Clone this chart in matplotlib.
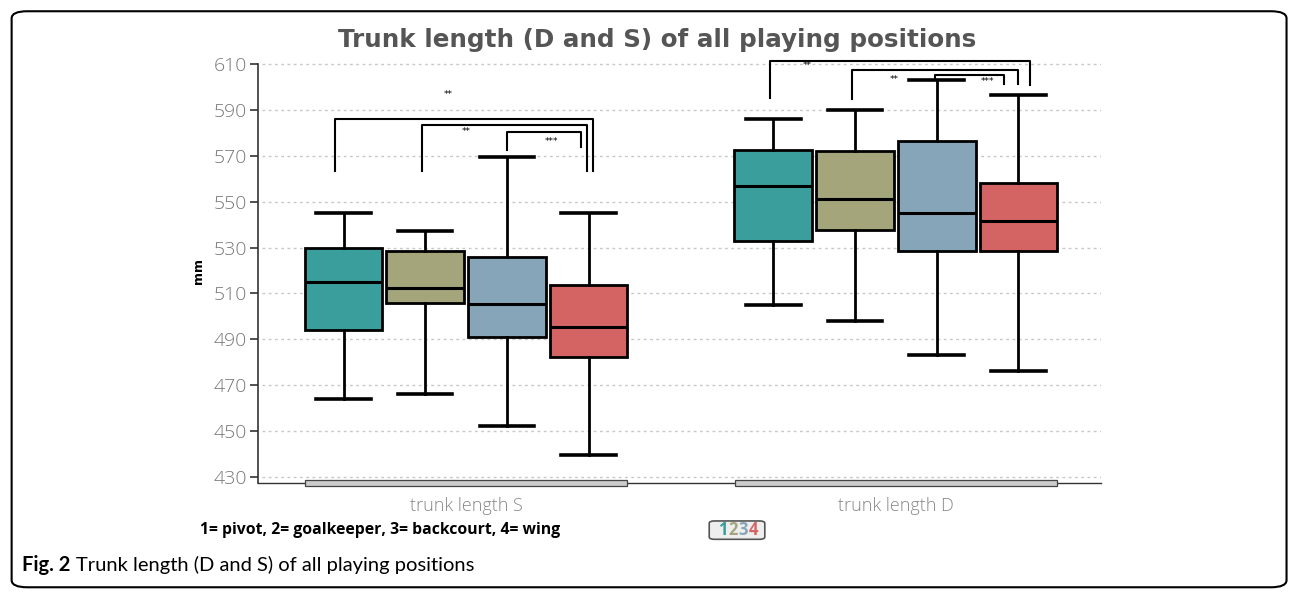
import numpy as np
import matplotlib.pyplot as plt
from matplotlib.patches import Rectangle, FancyBboxPatch
from matplotlib.transforms import blended_transform_factory

plt.rcParams['font.family'] = ['DejaVu Sans']

# playing positions: 1= pivot, 2= goalkeeper, 3= backcourt, 4= wing
groups = ["trunk length S", "trunk length D"]
positions = ["1", "2", "3", "4"]
colors = ["#3a9e9c", "#a5a57b", "#87a5b9", "#d46463"]

# box statistics (mm), one row per group, one column per position
whislo = [[464, 466, 452, 439.5], [505, 498, 483, 476]]
q1 = [[494, 506, 491, 482.5], [533, 537.5, 528.5, 528.5]]
med = [[515, 512.5, 505.5, 495.5], [557, 551, 545, 541.5]]
q3 = [[530, 528.5, 526, 513.5], [572.5, 572, 576.5, 558]]
whishi = [[545, 537, 569.5, 545], [586, 590, 603, 596.5]]

# significance brackets: x left, x right, top, left leg end, right leg end, label, label x, label y
brackets = [
    (-0.305, 0.295, 586.0, 563.5, 563.5, "**", -0.042, 596.5),
    (-0.102, 0.281, 583.4, 563.5, 563.5, "**", 0.000, 580.4),
    (0.095, 0.267, 580.4, 572.5, 574.0, "***", 0.198, 576.2),
    (0.706, 1.312, 611.4, 595.2, 600.8, "**", 0.793, 609.4),
    (0.897, 1.285, 607.2, 594.7, 601.1, "**", 0.995, 603.3),
    (1.090, 1.251, 605.3, 603.0, 601.2, "***", 1.212, 602.5),
]

yticks = np.arange(430, 611, 20)

thin = dict(family="Open Sans", fontweight="light")
narrow_bold = dict(family="Open Sans", stretch="condensed", fontweight="bold")

fig = plt.figure(figsize=(12.93, 5.92), dpi=100)
ax = fig.add_axes([0.1995, 0.1841, 0.652, 0.7155])

step = 0.19
width = 0.181
for g in range(len(groups)):
    for i in range(len(positions)):
        stats = [dict(whislo=whislo[g][i], q1=q1[g][i], med=med[g][i],
                      q3=q3[g][i], whishi=whishi[g][i], fliers=[])]
        x = g + (i - 1.5) * step
        ax.bxp(stats, positions=[x], widths=width, patch_artist=True,
               manage_ticks=False, capwidths=0.127,
               boxprops=dict(facecolor=colors[i], edgecolor="black", linewidth=2),
               medianprops=dict(color="black", linewidth=2.2),
               whiskerprops=dict(color="black", linewidth=2),
               capprops=dict(color="black", linewidth=2.6))

for x1, x2, top, yl, yr, label, lx, ly in brackets:
    ax.plot([x1, x1, x2, x2], [yl, top, top, yr], color="black",
            linewidth=1.5, clip_on=False)
    ax.text(lx, ly, label, fontsize=6.5, ha="center", va="center", clip_on=False)

ax.set_xlim(-0.484, 1.477)
ax.set_ylim(427.35, 612)
ax.set_yticks(yticks)
ax.set_yticklabels([str(v) for v in yticks], color="#777777", fontsize=14, **thin)
ax.tick_params(axis="y", length=6, width=1.2, color="#333333", pad=2)
ax.set_xticks([0, 1])
ax.set_xticklabels(groups, color="#888888", fontsize=13, **thin)
ax.tick_params(axis="x", length=0, pad=10)

for v in yticks:
    ax.axhline(v, xmin=0.005, xmax=1, color="#c8c8c8", linewidth=1,
               linestyle=(0, (2, 2.5)), zorder=0)

for side in ["top", "right"]:
    ax.spines[side].set_visible(False)
ax.spines["left"].set_bounds(427.35, 610)
ax.spines["left"].set_color("#333333")
ax.spines["left"].set_linewidth(1.2)
ax.spines["bottom"].set_color("#333333")
ax.spines["bottom"].set_linewidth(1)

# group range bars on the x axis
trans = blended_transform_factory(ax.transData, ax.transAxes)
for g in range(len(groups)):
    ax.add_patch(Rectangle((g - 0.374, -0.006), 0.748, 0.012, transform=trans,
                           facecolor="#cccccc", edgecolor="#444444",
                           linewidth=0.9, clip_on=False, zorder=3))

ax.set_ylabel("mm", fontsize=9, fontweight="bold", labelpad=6)

fig.text(0.508, 0.932, "Trunk length (D and S) of all playing positions",
         ha="center", va="center", fontsize=17.7, fontweight="bold", color="#555555")

fig.text(0.155, 0.105, "1= pivot, 2= goalkeeper, 3= backcourt, 4= wing",
         ha="left", va="center", fontsize=11.3, **narrow_bold)

# colour key 1234
key_box = FancyBboxPatch((0.5505, 0.091), 0.039, 0.027,
                         boxstyle="round,pad=0.002,rounding_size=0.004",
                         transform=fig.transFigure, facecolor="#eeeeee",
                         edgecolor="#555555", linewidth=1.2)
fig.patches.append(key_box)
for i, p in enumerate(positions):
    fig.text(0.5557 + i * 0.0077, 0.1045, p, ha="left", va="center",
             fontsize=12, color=colors[i], **narrow_bold)

# outer frame and caption
frame = FancyBboxPatch((0.009, 0.008), 0.986, 0.973,
                       boxstyle="round,pad=0,rounding_size=0.012",
                       transform=fig.transFigure, facecolor="none",
                       edgecolor="black", linewidth=1.5)
fig.patches.append(frame)
cap = fig.text(0.017, 0.046, "Fig. 2", ha="left", va="center",
               fontsize=14.5, fontweight="bold", family="Lato")
fig.canvas.draw()
bb = cap.get_window_extent()
fig.text(bb.x1 / fig.bbox.width + 0.004, 0.046,
         "Trunk length (D and S) of all playing positions",
         ha="left", va="center", fontsize=14.5, family="Lato")

fig.savefig("out.png", dpi=100)
